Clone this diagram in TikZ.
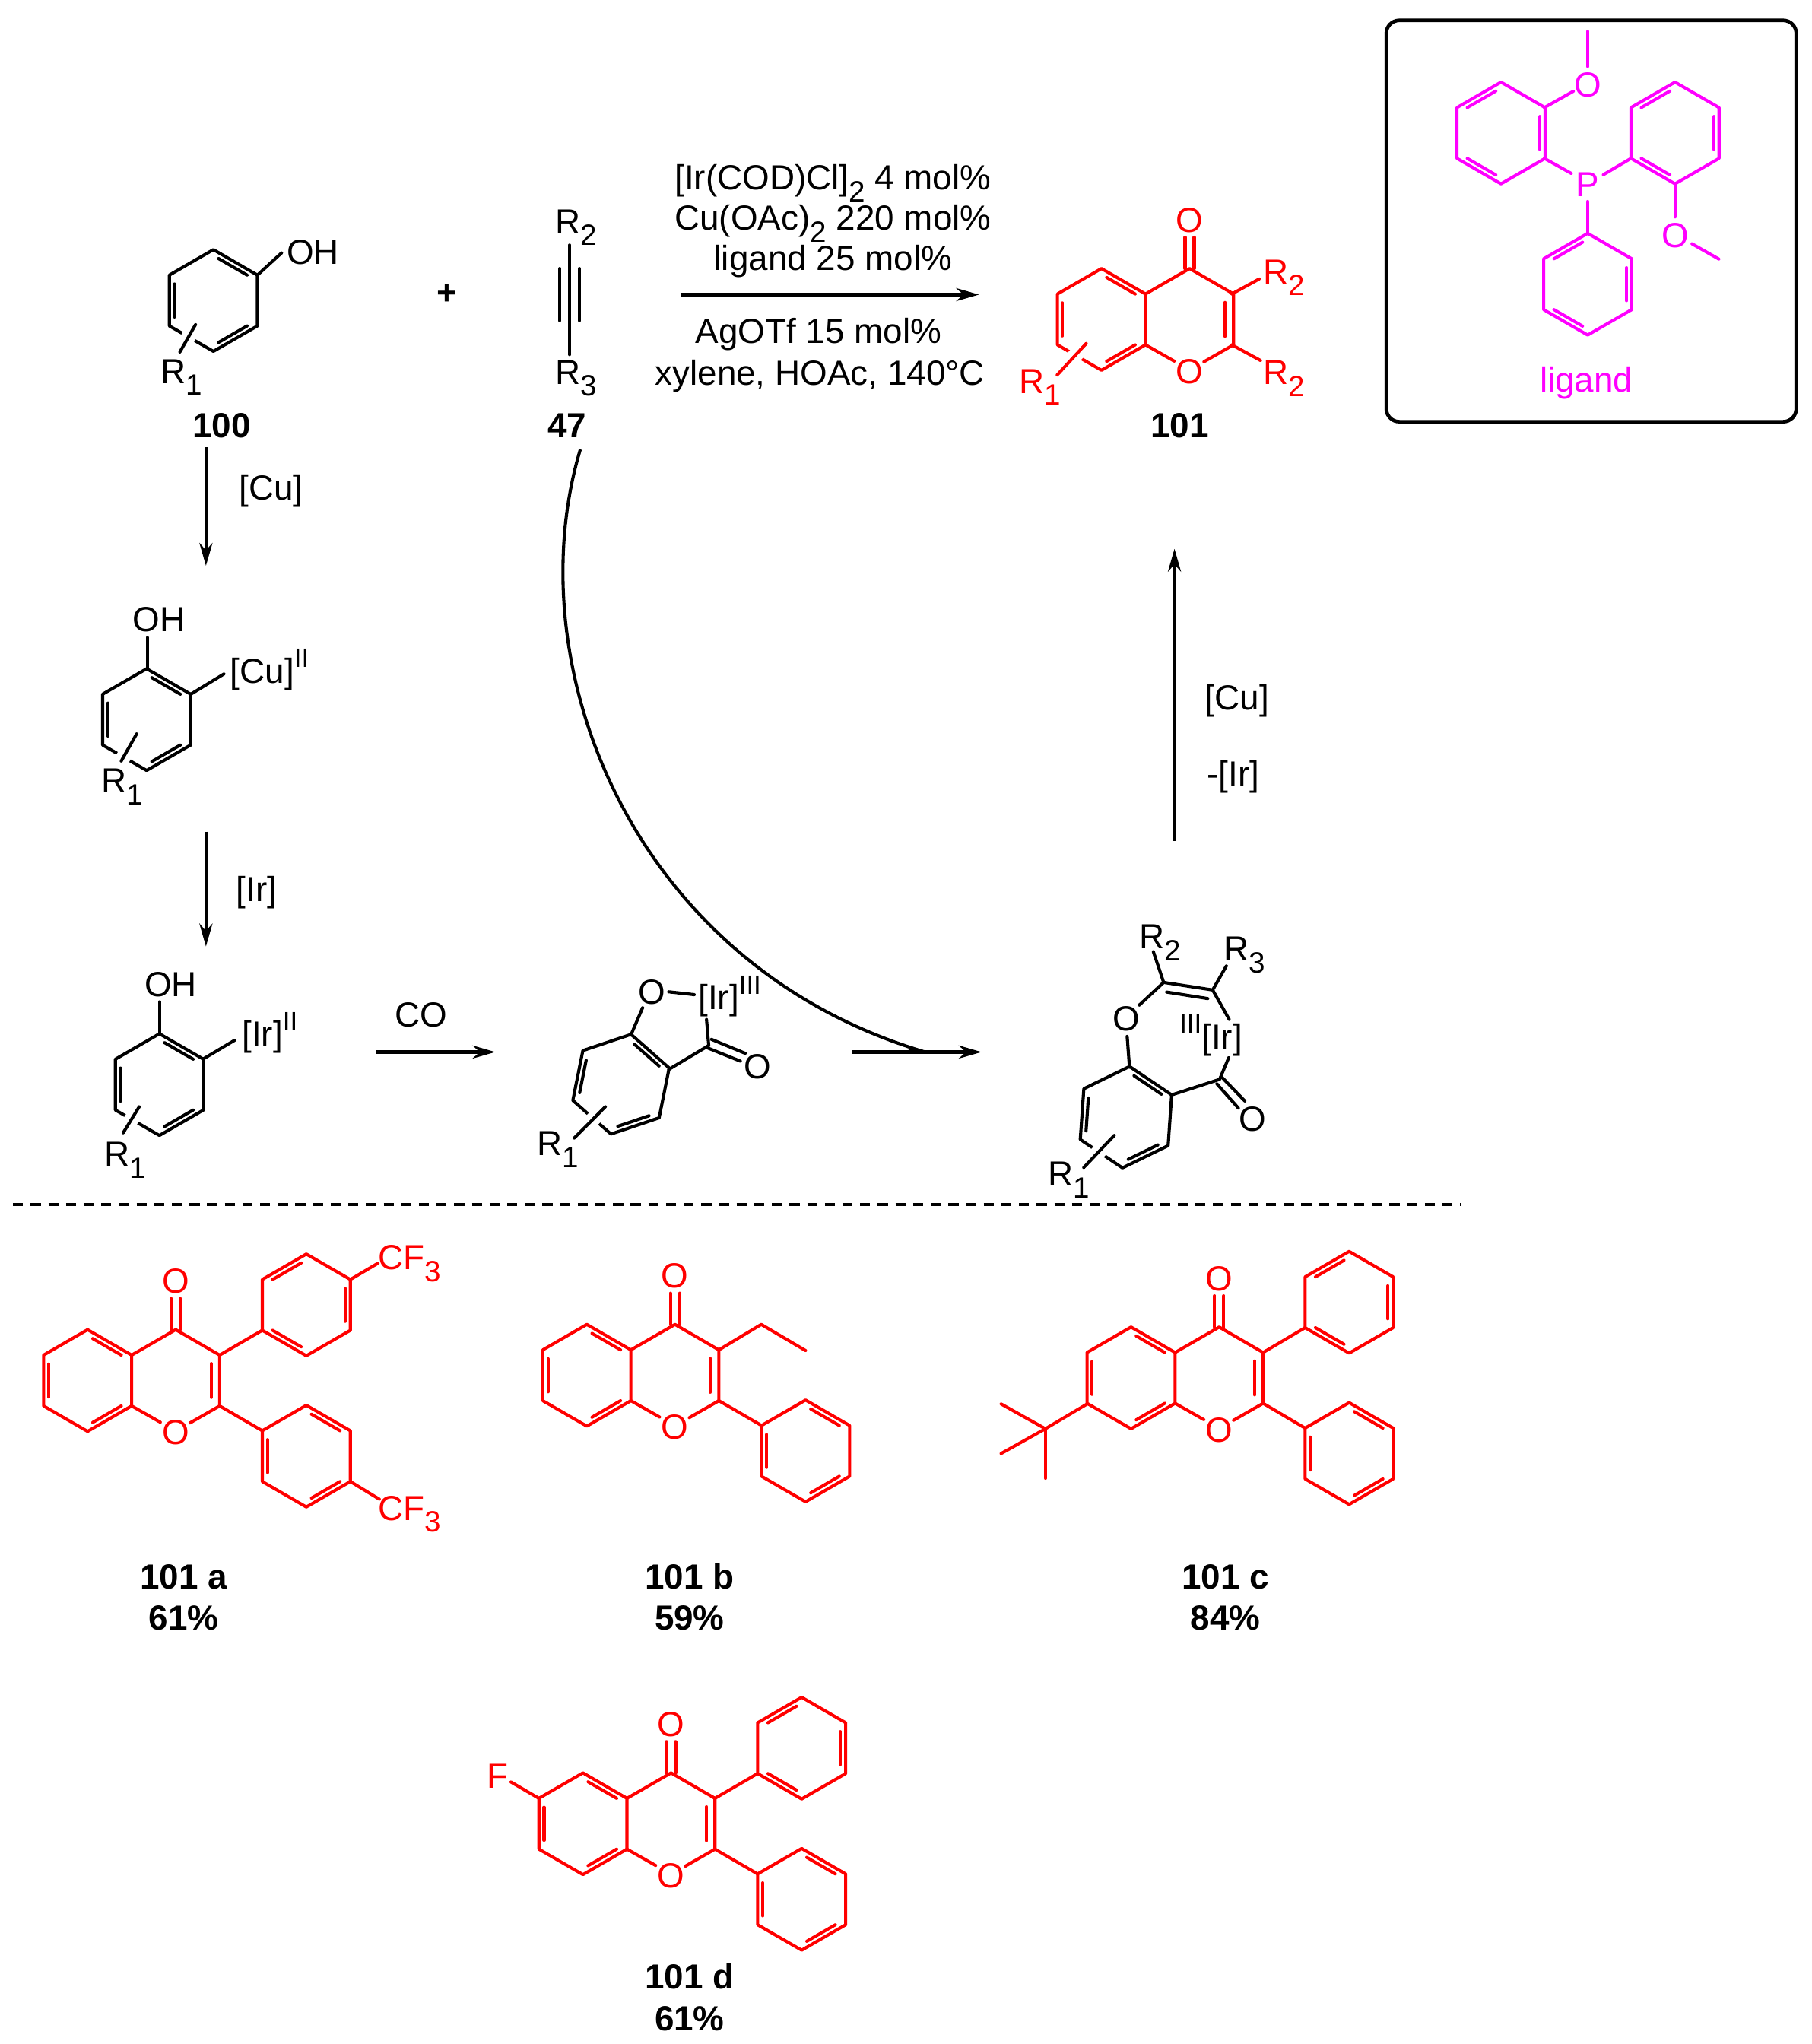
\documentclass[tikz,border=0pt]{standalone}
\usepackage{fontspec}
\setmainfont{Liberation Sans}
\usepackage{tikz}
\usetikzlibrary{arrows.meta}
\definecolor{ligandpink}{RGB}{255,0,255}
\definecolor{productred}{RGB}{255,0,0}
\tikzstyle{bond} = [draw, line width=0.68pt, line cap=round, line join=round]
\tikzstyle{cross} = [bond, preaction={draw, white, line width=3.2pt, line cap=butt}]
\tikzstyle{rxn} = [draw, line width=0.68pt, -{Stealth[length=1.75mm,width=1mm]}]
\tikzstyle{atom} = [inner sep=0pt, text height=5.45pt, text depth=0pt]
\newcommand{\lowidx}[1]{\raisebox{-0.65ex}{\fontsize{6.4}{6.4}\selectfont #1}}
\newcommand{\upidx}[1]{\raisebox{0.85ex}{\fontsize{5.8}{5.8}\selectfont #1}}
% hexagon: centre, angle of first corner, edges with an inner line
\newcommand{\ringsix}[3]{%
	\begin{scope}[shift={(#1)}]
		\draw[bond] (#2:39) -- (#2+60:39) -- (#2+120:39) -- (#2+180:39) -- (#2+240:39) -- (#2+300:39) -- cycle;
		\foreach \e in {#3} {\draw[bond] (#2+60*\e+7:32.4) -- (#2+60*\e+53:32.4);}
	\end{scope}}
% chromone core, origin at the middle of the fused bond
\newcommand{\chromone}[2]{%
	\begin{scope}[shift={(#2)}]
		\ringsix{-33.8,0}{30}{0,2,4}
		\draw[bond] (0,-19.5) -- (33.8,-39) -- (67.5,-19.5) -- (67.5,19.5) -- (44.8,32.5);
		\draw[bond] (0,19.5) -- (22,32);
		\draw[bond] (61,-13) -- (61,13);
		\draw[bond] (30.3,-39) -- (30.3,-63);
		\draw[bond] (37.3,-39) -- (37.3,-63);
		\node[atom] (#1co) at (33.8,-76.5) {O};
		\node[atom] (#1o) at (33.8,39.5) {O};
	\end{scope}}

\begin{document}
\begin{tikzpicture}[x=0.01cm,y=-0.01cm]
	\tikzstyle{every node}=[font=\fontsize{7.6}{9}\selectfont]
	\tikzstyle{num}=[atom,font=\fontsize{7.6}{9}\selectfont\bfseries]
	\useasboundingbox (0,0) rectangle (1390,1568);
	
	% ------------------- Starting materials ------------------- %
	\ringsix{163.7,230.5}{30}{0,2,4}
	\draw[bond] (197.5,211) -- (216,194);
	\node[atom] (oh100) at (240,193) {OH};
	\draw[cross] (150,249) -- (138,270);
	\node[atom] (r100) at (139,284.5) {R\lowidx{1}};
	\node[num] (n100) at (170,326) {100};
	\node[atom,font=\fontsize{7.6}{9}\selectfont\bfseries] (plus) at (343,224) {+};
	
	\draw[bond] (437,188) -- (437,272);
	\draw[bond] (429.5,206) -- (429.5,246);
	\draw[bond] (444.5,206) -- (444.5,246);
	\node[atom] (r2top) at (442,169.5) {R\lowidx{2}};
	\node[atom] (r3top) at (442,285) {R\lowidx{3}};
	\node[num] (n47) at (435,326) {47};
	
	% ------------------- Main arrow + conditions ------------------- %
	\coordinate (mainA) at (522,226);
	\coordinate (mainB) at (751,226);
	\draw[rxn] (mainA) -- (mainB);
	\node[atom] (condA) at (639,136) {[Ir(COD)Cl]\lowidx{2} 4 mol\%};
	\node[atom] (condB) at (639,167) {Cu(OAc)\lowidx{2} 220 mol\%};
	\node[atom] (condC) at (639,198) {ligand 25 mol\%};
	\node[atom] (condD) at (628,254) {AgOTf 15 mol\%};
	\node[atom] (condE) at (629,286) {xylene, HOAc, 140°C};
	
	% ------------------- Product 101 ------------------- %
	\begin{scope}[productred]
		\chromone{p}{878.8,245}
		\draw[bond] (945,225.5) -- (966,214);
		\draw[bond] (945,264.5) -- (967,276.5);
		\node[atom] (r2a) at (985,208) {R\lowidx{2}};
		\node[atom] (r2b) at (985,285.5) {R\lowidx{2}};
		\draw[cross] (833.3,263.5) -- (811,287.6);
		\node[atom] (r1p) at (798,292) {R\lowidx{1}};
	\end{scope}
	\node[num] (n101) at (905,326) {101};
	
	% ------------------- Ligand box ------------------- %
	\draw[line width=0.78pt,rounded corners=0.1cm] (1063.5,15.6) rectangle (1378,323.5);
	\begin{scope}[ligandpink]
		\ringsix{1151.5,102}{30}{1,3,5}
		\ringsix{1285,102}{30}{1,3,5}
		\ringsix{1218,218}{30}{1,3,5}
		\node[atom] (pl) at (1218,141) {P};
		\node[atom] (oa) at (1218,64.5) {O};
		\node[atom] (ob) at (1285,180) {O};
		\draw[bond] (1218,24) -- (1218,51);
		\draw[bond] (1184.8,82.5) -- (1207,70);
		\draw[bond] (1184.8,121.5) -- (1205.4,133);
		\draw[bond] (1251.2,121.5) -- (1230,134);
		\draw[bond] (1218,154.5) -- (1218,179);
		\draw[bond] (1285,141) -- (1285,166.4);
		\draw[bond] (1298,187) -- (1318.6,198.7);
		\node[atom] (lig) at (1217,291) {ligand};
	\end{scope}
	
	% ------------------- Left column ------------------- %
	\coordinate (cuA) at (158,343);
	\coordinate (cuB) at (158,434);
	\draw[rxn] (cuA) -- (cuB);
	\node[atom] (cuT) at (208,374) {[Cu]};
	
	\ringsix{112.5,552}{30}{0,2,4}
	\draw[bond] (113,489) -- (113,513);
	\node[atom] (ohcu) at (122,475) {OH};
	\draw[bond] (146.4,532.5) -- (171.8,517);
	\node[atom,anchor=west] (cul) at (176,514.5) {[Cu]\upidx{II}};
	\draw[cross] (104.8,563) -- (93,583.8);
	\node[atom] (r1cu) at (94,598.5) {R\lowidx{1}};
	
	\coordinate (irA) at (158,638);
	\coordinate (irB) at (158,726);
	\draw[rxn] (irA) -- (irB);
	\node[atom] (irT) at (197,682) {[Ir]};
	
	\ringsix{122.3,832}{30}{0,2,4}
	\draw[bond] (122.3,768.5) -- (122.3,793);
	\node[atom] (ohir) at (131,755) {OH};
	\draw[bond] (155.6,812.5) -- (180,798);
	\node[atom,anchor=west] (irl) at (185,793) {[Ir]\upidx{II}};
	\draw[cross] (106.8,849) -- (94.5,869);
	\node[atom] (r1ir) at (96,885) {R\lowidx{1}};
	
	\coordinate (coA) at (289,807);
	\coordinate (coB) at (380,807);
	\draw[rxn] (coA) -- (coB);
	\node[atom] (coT) at (323,778) {CO};
	
	% ------------------- Iridacycle with CO ------------------- %
	\ringsix{476.4,831.7}{41.4}{0,2,4}
	\node[atom] (olac) at (500,760.5) {O};
	\draw[bond] (484,794) -- (493,773);
	\draw[bond] (513,760.8) -- (532.6,763);
	\node[atom,anchor=west] (irlac) at (535,765) {[Ir]\upidx{III}};
	\draw[bond] (543.7,802) -- (542,782);
	\draw[bond] (513,820.4) -- (543.7,802);
	\draw[bond] (545.8,797.3) -- (571.7,808);
	\draw[bond] (542,803.5) -- (568,814);
	\node[atom] (olacb) at (581,818) {O};
	\draw[cross] (464.4,849) -- (440.5,873);
	\node[atom] (r1lac) at (428,877) {R\lowidx{1}};
	
	% ------------------- Curve from 47 + arrow ------------------- %
	\coordinate (bigA) at (445,345.4);
	\coordinate (bigB) at (709,806.8);
	\draw[bond] (bigA) .. controls (396,510) and (484,739.5) .. (bigB);
	\fill (697,803.4) -- (709,806.8) -- (697,807.2) -- cycle;
	\coordinate (inA) at (654,807);
	\coordinate (inB) at (753,807);
	\draw[rxn] (inA) -- (inB);
	
	% ------------------- Seven-membered ring ------------------- %
	\ringsix{863.8,857}{34}{0,2,4}
	\node[atom] (osev) at (864,781) {O};
	\draw[bond] (864.7,795) -- (866.5,818.7);
	\draw[bond] (874,771) -- (892.7,753.6) -- (930.3,759.4) -- (943,782);
	\draw[bond] (895,761) -- (926.5,766);
	\draw[bond] (892.7,753.6) -- (884.8,730);
	\draw[bond] (930.3,759.4) -- (940.8,741);
	\node[atom] (r2sev) at (890,718) {R\lowidx{2}};
	\node[atom] (r3sev) at (955,727.5) {R\lowidx{3}};
	\node[atom] (irsev) at (929,795) {\upidx{III}[Ir]};
	\draw[bond] (942.6,811.4) -- (935.6,828) -- (898.6,840);
	\draw[bond] (937.5,826.5) -- (955,844.6);
	\draw[bond] (933.5,831.4) -- (950,850);
	\node[atom] (osevb) at (961,858) {O};
	\draw[cross] (854.8,871) -- (831.4,895.6);
	\node[atom] (r1sev) at (820,900) {R\lowidx{1}};
	
	\coordinate (upA) at (901,645);
	\coordinate (upB) at (901,421);
	\draw[rxn] (upA) -- (upB);
	\node[atom] (upT) at (949,535) {[Cu]};
	\node[atom] (upU) at (946,593) {-[Ir]};
	
	% ------------------- Dashed separator ------------------- %
	\coordinate (sepA) at (10,924);
	\coordinate (sepB) at (1121,924);
	\draw[line width=0.68pt,dash pattern=on 2.2pt off 1.65pt] (sepA) -- (sepB);
	
	% ------------------- Scope of products ------------------- %
	\begin{scope}[productred]
		% 101 a
		\chromone{a}{101,1059}
		\ringsix{235,1001}{30}{1,3,5}
		\ringsix{235,1117}{30}{0,2,4}
		\draw[bond] (168.5,1039.5) -- (201.2,1020.5);
		\draw[bond] (168.5,1078.5) -- (201.2,1097.5);
		\draw[bond] (268.8,981.5) -- (290,969);
		\draw[bond] (268.8,1136.5) -- (291,1150);
		\node[atom] (cfa) at (314,964.5) {CF\lowidx{3}};
		\node[atom] (cfb) at (314,1156.5) {CF\lowidx{3}};
		% 101 b
		\chromone{b}{484,1055}
		\ringsix{618,1113}{30}{0,2,4}
		\draw[bond] (551.5,1035.5) -- (584,1016) -- (618,1036);
		\draw[bond] (551.5,1074.5) -- (584.2,1093.5);
		% 101 c
		\chromone{c}{901.5,1057}
		\ringsix{1035,999}{30}{1,3,5}
		\ringsix{1035,1115}{30}{0,2,4}
		\draw[bond] (969,1037.5) -- (1001.2,1018.5);
		\draw[bond] (969,1076.5) -- (1001.2,1095.5);
		\draw[bond] (834,1077) -- (802,1096) -- (768,1077);
		\draw[bond] (802,1096) -- (768,1115);
		\draw[bond] (802,1096) -- (802,1134);
		% 101 d
		\chromone{d}{481,1399}
		\ringsix{615,1341}{30}{1,3,5}
		\ringsix{615,1457}{30}{0,2,4}
		\draw[bond] (548.5,1379.5) -- (581.2,1360.5);
		\draw[bond] (548.5,1418.5) -- (581.2,1437.5);
		\draw[bond] (413.4,1379.5) -- (392,1367);
		\node[atom] (fd) at (382,1362) {F};
	\end{scope}
	
	\node[num] (na) at (141,1209) {101 a};
	\node[num] (ya) at (141,1241) {61\%};
	\node[num] (nb) at (529,1209) {101 b};
	\node[num] (yb) at (529,1241) {59\%};
	\node[num] (nc) at (940,1209) {101 c};
	\node[num] (yc) at (940,1241) {84\%};
	\node[num] (nd) at (529,1516) {101 d};
	\node[num] (yd) at (529,1548) {61\%};
\end{tikzpicture}
\end{document}
